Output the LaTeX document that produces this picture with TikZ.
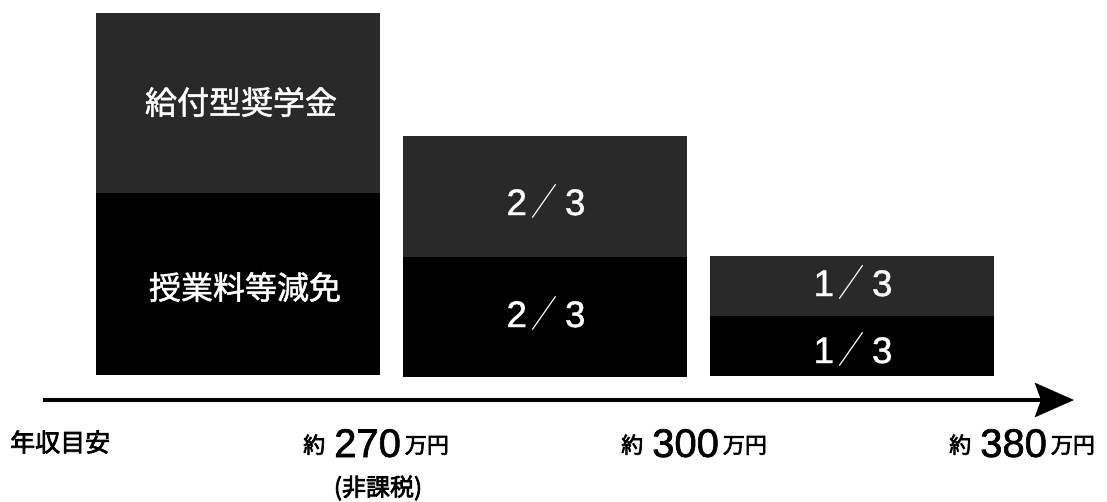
\documentclass[tikz,border=0pt]{standalone}
\usepackage{fontspec}
\setmainfont{Noto Sans CJK JP}
\newfontfamily\cjk[FakeBold=1.5]{Noto Sans CJK JP}
\newfontfamily\cjkm[FakeBold=3]{Noto Sans CJK JP}
\newfontfamily\cjkslash{Noto Sans CJK JP}
\newfontfamily\digits[FakeBold=1]{Liberation Sans}
\newfontfamily\digitsm[FakeBold=1.6]{Liberation Sans}
\usetikzlibrary{arrows.meta}
\definecolor{scangray}{gray}{0.16}
\tikzset{
  upperbox/.style={fill=scangray, draw=none, inner sep=0pt, minimum width=284pt},
  lowerbox/.style={fill=black, draw=none, inner sep=0pt, minimum width=284pt},
  boxtext/.style={text=white, inner sep=0pt, font=\cjk\fontsize{32}{32}\selectfont},
  fractext/.style={text=white, inner sep=0pt, font=\digits\fontsize{37}{37}\selectfont},
  axislabel/.style={inner sep=0pt, font=\cjkm\fontsize{25}{25}\selectfont},
  axisline/.style={line width=4.5pt, -{Stealth[length=39pt, width=34pt, inset=6pt]}}
}
\newcommand{\fracslash}{\hspace{4pt}\scalebox{0.7}[1]{\cjkslash ／}\hspace{8pt}}
\newcommand{\amount}[1]{\raisebox{4pt}{\cjkm\fontsize{22}{22}\selectfont 約}\hspace{9pt}{\digitsm\fontsize{40}{40}\selectfont #1}\hspace{4pt}\raisebox{4pt}{\cjkm\fontsize{22}{22}\selectfont 万円}}
\begin{document}
\begin{tikzpicture}[x=1pt, y=-1pt]
\useasboundingbox (0,0) rectangle (1107,502);
% column 1
\node[upperbox, minimum height=180pt] (b1u) at (238,103) {};
\node[lowerbox, minimum height=182pt] (b1l) at (238,284) {};
\node[boxtext] (t1u) at (241,102) {給付型奨学金};
\node[boxtext] (t1l) at (245,287) {授業料等減免};
% column 2
\node[upperbox, minimum height=121pt] (b2u) at (545,196.5) {};
\node[lowerbox, minimum height=120pt] (b2l) at (545,317) {};
\node[fractext] (t2u) at (546,201) {2\fracslash 3};
\node[fractext] (t2l) at (546,313) {2\fracslash 3};
% column 3
\node[upperbox, minimum height=60pt] (b3u) at (851.5,286) {};
\node[lowerbox, minimum height=60pt] (b3l) at (851.5,346) {};
\node[fractext] (t3u) at (853,282) {1\fracslash 3};
\node[fractext] (t3l) at (853,349) {1\fracslash 3};
% axis
\coordinate (axstart) at (43,400);
\coordinate (axend) at (1074,400);
\draw[axisline] (axstart) -- (axend);
% labels
\node[axislabel, anchor=west] (lab0) at (10,442) {年収目安};
\node[inner sep=0pt, anchor=base west] (lab1) at (303,457) {\amount{270}};
\node[axislabel, font=\cjkm\fontsize{24}{24}\selectfont] (lab1b) at (378,488) {(非課税)};
\node[inner sep=0pt, anchor=base west] (lab2) at (621,457) {\amount{300}};
\node[inner sep=0pt, anchor=base west] (lab3) at (949,457) {\amount{380}};
\end{tikzpicture}
\end{document}
